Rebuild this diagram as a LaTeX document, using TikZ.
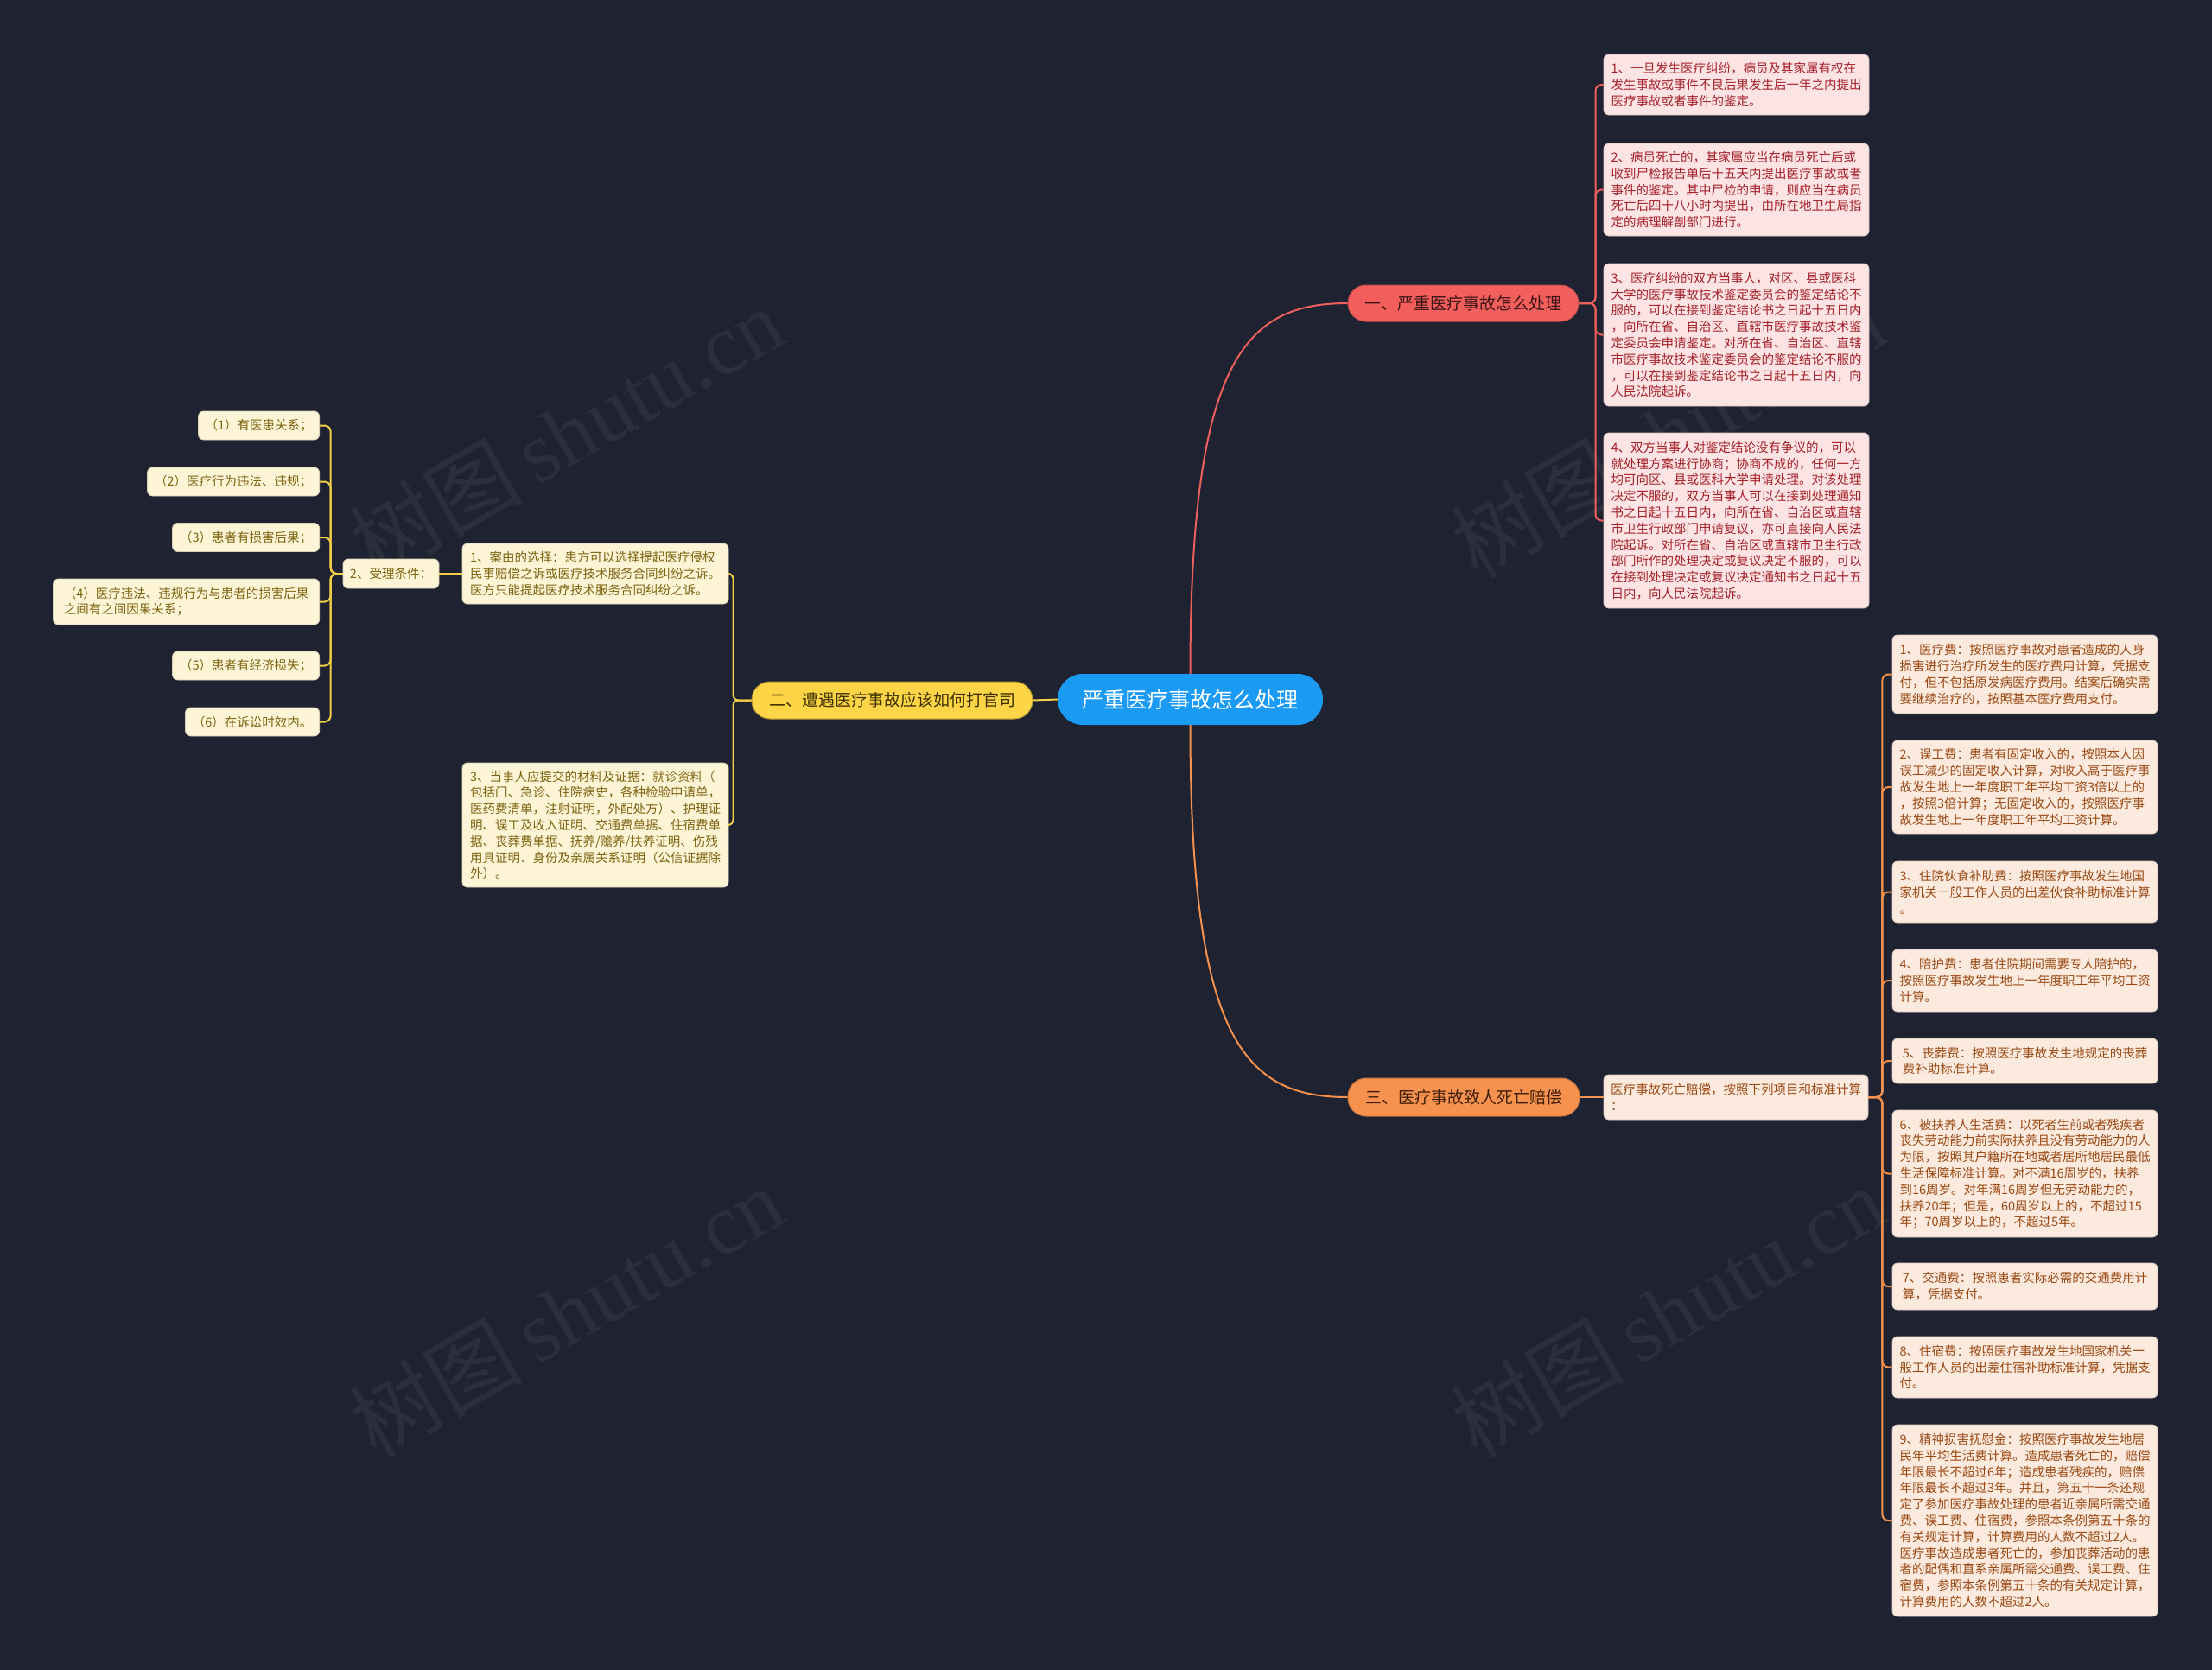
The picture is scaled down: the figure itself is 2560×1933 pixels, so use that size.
\documentclass[tikz,border=0pt]{standalone}
\usepackage{fontspec}
\setmainfont{Noto Sans CJK SC}
\newfontfamily\wmserif{Liberation Serif}
\usetikzlibrary{calc}
\definecolor{bg}{HTML}{1F2230}
\definecolor{cblue}{HTML}{1A9AF2}
\definecolor{redfill}{HTML}{F25F5C}
\definecolor{redline}{HTML}{EF5F5C}
\definecolor{redleaf}{HTML}{FDE4E4}
\definecolor{redtext}{HTML}{A3212A}
\definecolor{redbtext}{HTML}{3B1414}
\definecolor{yelfill}{HTML}{FDD547}
\definecolor{yelline}{HTML}{F2CF46}
\definecolor{yelleaf}{HTML}{FDF5D6}
\definecolor{yeltext}{HTML}{7C6412}
\definecolor{yelbtext}{HTML}{3D3100}
\definecolor{orfill}{HTML}{F7924E}
\definecolor{orline}{HTML}{F4914E}
\definecolor{orleaf}{HTML}{FDEADF}
\definecolor{ortext}{HTML}{994A14}
\definecolor{orbtext}{HTML}{3B1D07}
\tikzset{
  centernode/.style={fill=cblue, text=white, minimum width=307, minimum height=59,
    rounded corners=29, inner sep=0, font=\fontsize{25}{30}\selectfont},
  branch/.style={minimum height=42, rounded corners=21, inner sep=0, line width=1,
    font=\fontsize{19}{23}\selectfont},
  rbranch/.style={branch, fill=redfill, draw=redfill!80!black, text=redbtext},
  ybranch/.style={branch, fill=yelfill, draw=yelfill!70!black, text=yelbtext},
  obranch/.style={branch, fill=orfill, draw=orfill!80!black, text=orbtext},
  leaf/.style={rounded corners=6, inner xsep=6, inner ysep=0, align=left,
    line width=0.8, font=\fontsize{14.5}{18.8}\selectfont},
  rleaf/.style={leaf, fill=redleaf, draw=redleaf!85!black, text=redtext, minimum width=307},
  oleaf/.style={leaf, fill=orleaf, draw=orleaf!85!black, text=ortext, minimum width=307},
  yleaf/.style={leaf, fill=yelleaf, draw=yelleaf!85!black, text=yeltext},
  conn/.style={line width=2, rounded corners=7},
  rconn/.style={conn, draw=redline},
  yconn/.style={conn, draw=yelline},
  oconn/.style={conn, draw=orline},
  wm/.style={text=white, text opacity=0.055, rotate=30, inner sep=0,
    font=\fontsize{100}{110}\selectfont}
}
\begin{document}
\begin{tikzpicture}[x=1pt,y=-1pt]
\fill[bg] (0,0) rectangle (2560,1933);
\useasboundingbox (0,0) rectangle (2560,1933);

% watermarks
\node[wm] (wm1) at (655,500) {树图\,{\wmserif shutu.cn}};
\node[wm] (wm2) at (1930,500) {树图\,{\wmserif shutu.cn}};
\node[wm] (wm3) at (655,1518) {树图\,{\wmserif shutu.cn}};
\node[wm] (wm4) at (1930,1518) {树图\,{\wmserif shutu.cn}};

% central and branches
\node[centernode] (c) at (1377.5,809.5) {严重医疗事故怎么处理};
\node[rbranch, minimum width=267] (b1) at (1693.5,351) {一、严重医疗事故怎么处理};
\node[ybranch, minimum width=325, minimum height=43] (b2) at (1032.5,810.5) {二、遭遇医疗事故应该如何打官司};
\node[obranch, minimum width=268, minimum height=44] (b3) at (1694,1270) {三、医疗事故致人死亡赔偿};

% red leaves
\node[rleaf, minimum height=70] (r1) at (2009.5,98) {1、一旦发生医疗纠纷，病员及其家属有权在\\发生事故或事件不良后果发生后一年之内提出\\医疗事故或者事件的鉴定。};
\node[rleaf, minimum height=107] (r2) at (2009.5,219.5) {2、病员死亡的，其家属应当在病员死亡后或\\收到尸检报告单后十五天内提出医疗事故或者\\事件的鉴定。其中尸检的申请，则应当在病员\\死亡后四十八小时内提出，由所在地卫生局指\\定的病理解剖部门进行。};
\node[rleaf, minimum height=165] (r3) at (2009.5,387.5) {3、医疗纠纷的双方当事人，对区、县或医科\\大学的医疗事故技术鉴定委员会的鉴定结论不\\服的，可以在接到鉴定结论书之日起十五日内\\，向所在省、自治区、直辖市医疗事故技术鉴\\定委员会申请鉴定。对所在省、自治区、直辖\\市医疗事故技术鉴定委员会的鉴定结论不服的\\，可以在接到鉴定结论书之日起十五日内，向\\人民法院起诉。};
\node[rleaf, minimum height=203] (r4) at (2009.5,602.5) {4、双方当事人对鉴定结论没有争议的，可以\\就处理方案进行协商；协商不成的，任何一方\\均可向区、县或医科大学申请处理。对该处理\\决定不服的，双方当事人可以在接到处理通知\\书之日起十五日内，向所在省、自治区或直辖\\市卫生行政部门申请复议，亦可直接向人民法\\院起诉。对所在省、自治区或直辖市卫生行政\\部门所作的处理决定或复议决定不服的，可以\\在接到处理决定或复议决定通知书之日起十五\\日内，向人民法院起诉。};

% orange leaves
\node[oleaf, minimum width=306, minimum height=52] (o0) at (2009,1270) {医疗事故死亡赔偿，按照下列项目和标准计算\\：};
\node[oleaf, minimum height=91] (o1) at (2343.5,780.5) {1、医疗费：按照医疗事故对患者造成的人身\\损害进行治疗所发生的医疗费用计算，凭据支\\付，但不包括原发病医疗费用。结案后确实需\\要继续治疗的，按照基本医疗费用支付。};
\node[oleaf, minimum height=108] (o2) at (2343.5,911) {2、误工费：患者有固定收入的，按照本人因\\误工减少的固定收入计算，对收入高于医疗事\\故发生地上一年度职工年平均工资3倍以上的\\，按照3倍计算；无固定收入的，按照医疗事\\故发生地上一年度职工年平均工资计算。};
\node[oleaf, minimum height=71] (o3) at (2343.5,1032.5) {3、住院伙食补助费：按照医疗事故发生地国\\家机关一般工作人员的出差伙食补助标准计算\\。};
\node[oleaf, minimum height=72] (o4) at (2343.5,1135) {4、陪护费：患者住院期间需要专人陪护的，\\按照医疗事故发生地上一年度职工年平均工资\\计算。};
\node[oleaf, minimum height=52] (o5) at (2343.5,1228) {5、丧葬费：按照医疗事故发生地规定的丧葬\\费补助标准计算。};
\node[oleaf, minimum height=147] (o6) at (2343.5,1358.5) {6、被扶养人生活费：以死者生前或者残疾者\\丧失劳动能力前实际扶养且没有劳动能力的人\\为限，按照其户籍所在地或者居所地居民最低\\生活保障标准计算。对不满16周岁的，扶养\\到16周岁。对年满16周岁但无劳动能力的，\\扶养20年；但是，60周岁以上的，不超过15\\年；70周岁以上的，不超过5年。};
\node[oleaf, minimum height=54] (o7) at (2343.5,1489) {7、交通费：按照患者实际必需的交通费用计\\算，凭据支付。};
\node[oleaf, minimum height=71] (o8) at (2343.5,1582.5) {8、住宿费：按照医疗事故发生地国家机关一\\般工作人员的出差住宿补助标准计算，凭据支\\付。};
\node[oleaf, minimum height=222] (o9) at (2343.5,1760) {9、精神损害抚慰金：按照医疗事故发生地居\\民年平均生活费计算。造成患者死亡的，赔偿\\年限最长不超过6年；造成患者残疾的，赔偿\\年限最长不超过3年。并且，第五十一条还规\\定了参加医疗事故处理的患者近亲属所需交通\\费、误工费、住宿费，参照本条例第五十条的\\有关规定计算，计算费用的人数不超过2人。\\医疗事故造成患者死亡的，参加丧葬活动的患\\者的配偶和直系亲属所需交通费、误工费、住\\宿费，参照本条例第五十条的有关规定计算，\\计算费用的人数不超过2人。};

% yellow leaves
\node[yleaf, minimum width=308, minimum height=70] (m1) at (689,664) {1、案由的选择：患方可以选择提起医疗侵权\\民事赔偿之诉或医疗技术服务合同纠纷之诉。\\医方只能提起医疗技术服务合同纠纷之诉。};
\node[yleaf, minimum width=308, minimum height=144] (m3) at (689,955) {3、当事人应提交的材料及证据：就诊资料（\\包括门、急诊、住院病史，各种检验申请单，\\医药费清单，注射证明，外配处方）、护理证\\明、误工及收入证明、交通费单据、住宿费单\\据、丧葬费单据、抚养/赡养/扶养证明、伤残\\用具证明、身份及亲属关系证明（公信证据除\\外）。};
\node[yleaf, minimum width=111, minimum height=34] (k2) at (452.5,664) {2、受理条件：};
\node[yleaf, anchor=east, minimum width=140, minimum height=33] (l1) at (370,492.5) {（1）有医患关系；};
\node[yleaf, anchor=east, minimum width=199, minimum height=33] (l2) at (370,557.5) {（2）医疗行为违法、违规；};
\node[yleaf, anchor=east, minimum width=170, minimum height=33] (l3) at (370,622) {（3）患者有损害后果；};
\node[yleaf, anchor=east, minimum width=308, minimum height=53] (l4) at (370,696.5) {（4）医疗违法、违规行为与患者的损害后果\\之间有之间因果关系；};
\node[yleaf, anchor=east, minimum width=170, minimum height=33] (l5) at (370,770.5) {（5）患者有经济损失；};
\node[yleaf, anchor=east, minimum width=155, minimum height=33] (l6) at (370,835.5) {（6）在诉讼时效内。};

% connectors
\coordinate (k1) at (c.north|-b1.west);
\coordinate (k3) at (c.south|-b3.west);
\draw[rconn] (c.north) .. controls ($(c.north)!0.85!(k1)$) and ($(k1)!0.35!(b1.west)$) .. (b1.west);
\draw[oconn] (c.south) .. controls ($(c.south)!0.85!(k3)$) and ($(k3)!0.35!(b3.west)$) .. (b3.west);
\draw[yconn] (c.west) -- (b2.east);

\foreach \n in {r1,r2,r3,r4}{
  \draw[rconn] (b1.east) -- ++(19,0) |- (\n.west);
}
\draw[oconn] (b3.east) -- (o0.west);
\foreach \n in {o1,o2,o3,o4,o5,o6,o7,o8,o9}{
  \draw[oconn] (o0.east) -- ++(16,0) |- (\n.west);
}
\foreach \n in {m1,m3}{
  \draw[yconn, rounded corners=6] (b2.west) -- ++(-21,0) |- (\n.east);
}
\draw[yconn] (k2.east) -- (m1.west);
\foreach \n in {l1,l2,l3,l4,l5,l6}{
  \draw[yconn] (k2.west) -- ++(-14,0) |- (\n.east);
}
\end{tikzpicture}
\end{document}
